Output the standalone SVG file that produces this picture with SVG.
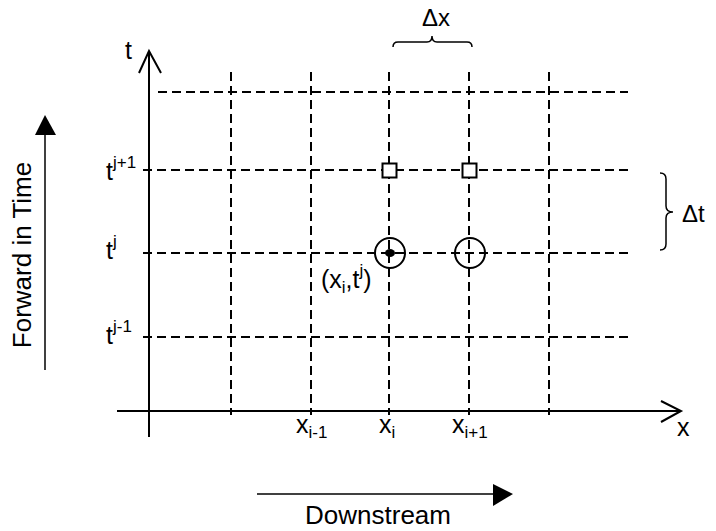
<svg xmlns="http://www.w3.org/2000/svg" width="716" height="531" viewBox="0 0 716 531">
<defs>
<style>
text{font-family:"Liberation Sans",Arial,sans-serif;fill:#000}
.lbl{font-size:25px}
.big{font-size:26px}
.dl{font-size:24px}
.sm{font-size:17px}
.axis{stroke:#000;stroke-width:2;fill:none}
.grid{stroke:#000;stroke-width:2;fill:none;stroke-dasharray:9 5}
.thin{stroke:#000;stroke-width:1.5;fill:none}
</style>
</defs>
<rect width="716" height="531" fill="#fff"/>
<g id="grid">
<line class="grid" x1="158" y1="92" x2="628" y2="92"/>
<line class="grid" x1="143" y1="170" x2="628" y2="170"/>
<line class="grid" x1="143" y1="253" x2="628" y2="253"/>
<line class="grid" x1="143" y1="337" x2="628" y2="337"/>
<line class="grid" x1="231" y1="72" x2="231" y2="415"/>
<line class="grid" x1="311" y1="72" x2="311" y2="415"/>
<line class="grid" x1="389" y1="72" x2="389" y2="415"/>
<line class="grid" x1="469" y1="72" x2="469" y2="415"/>
<line class="grid" x1="549" y1="72" x2="549" y2="415"/>
</g>
<g id="axes">
<line class="axis" x1="149" y1="51" x2="149" y2="437"/>
<polyline class="axis" points="139,73 149,51 161,73"/>
<line class="axis" x1="117" y1="411" x2="681" y2="411"/>
<polyline class="axis" points="661,401 681,411 661,422"/>
<text class="lbl" x="125" y="59">t</text>
<text class="lbl" x="677" y="436">x</text>
</g>
<g id="time-labels">
<text class="lbl" x="106" y="180">t<tspan class="sm" dy="-12">j+1</tspan></text>
<text class="lbl" x="106" y="259">t<tspan class="sm" dy="-12">j</tspan></text>
<text class="lbl" x="106" y="344">t<tspan class="sm" dy="-12">j-1</tspan></text>
</g>
<g id="x-labels">
<text class="lbl" x="296" y="433">x<tspan class="sm" dy="5">i-1</tspan></text>
<text class="lbl" x="379" y="433">x<tspan class="sm" dy="5">i</tspan></text>
<text class="lbl" x="452" y="433">x<tspan class="sm" dy="5">i+1</tspan></text>
</g>
<g id="node-sq1"><rect x="382.5" y="163.5" width="14" height="14" fill="#fff" stroke="#000" stroke-width="2"/></g>
<g id="node-sq2"><rect x="462.5" y="163.5" width="14" height="14" fill="#fff" stroke="#000" stroke-width="2"/></g>
<g id="node-c1">
<circle cx="390" cy="253" r="15" fill="none" stroke="#000" stroke-width="2"/>
<ellipse cx="390" cy="253" rx="5" ry="4" fill="#000"/>
</g>
<g id="node-c2"><circle cx="470" cy="253" r="15" fill="none" stroke="#000" stroke-width="2"/></g>
<g id="point-label">
<text class="lbl" x="321" y="288">(x<tspan class="sm" dy="5">i</tspan><tspan dy="-5">,t</tspan><tspan class="sm" dy="-12">j</tspan><tspan dy="12">)</tspan></text>
</g>
<g id="dx">
<path class="thin" d="M393,47 Q393,42 398,42 L427,42 Q432,42 432,36 Q432,42 437,42 L467,42 Q472,42 472,47"/>
<text class="dl" x="422" y="26">Δx</text>
</g>
<g id="dt">
<path class="thin" d="M660,173 Q666,173 666,179 L666,206 Q666,212 673,212 Q666,212 666,218 L666,244 Q666,250 660,250"/>
<text class="dl" x="682" y="222">Δt</text>
</g>
<g id="forward">
<line x1="45" y1="133" x2="45" y2="370" stroke="#000" stroke-width="1.5"/>
<polygon points="45,115 35,135 56,135" fill="#000"/>
<text class="big" transform="translate(31,255) rotate(-90)" text-anchor="middle">Forward in Time</text>
</g>
<g id="downstream">
<line x1="257" y1="494" x2="495" y2="494" stroke="#000" stroke-width="1.5"/>
<polygon points="513,494 493,484 493,506" fill="#000"/>
<text class="big" x="378" y="524" text-anchor="middle">Downstream</text>
</g>
</svg>
